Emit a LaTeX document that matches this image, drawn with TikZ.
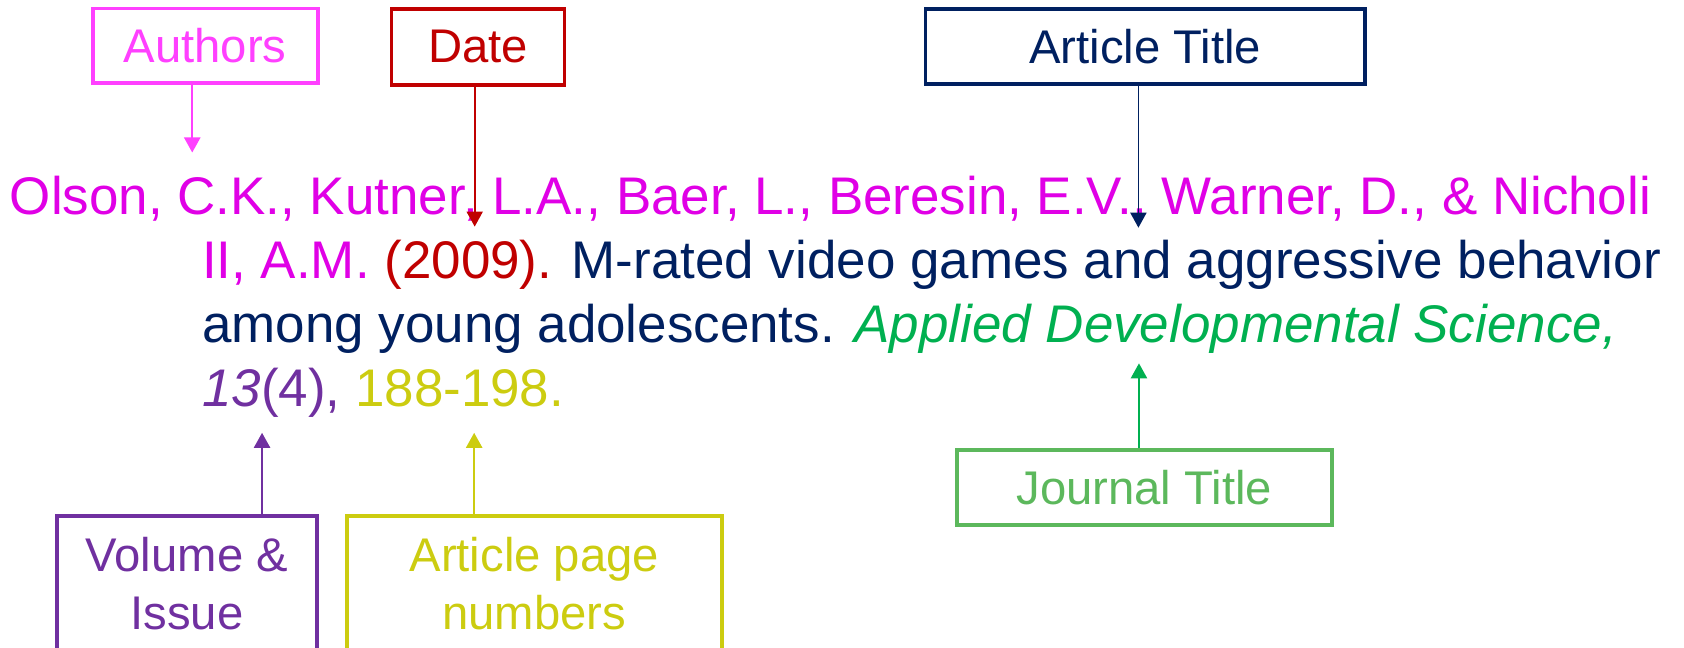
\documentclass[tikz,border=0pt]{standalone}
\usepackage{fontspec}
\setmainfont{Liberation Sans}
\usetikzlibrary{arrows.meta}
\definecolor{authc}{HTML}{FF40FF}
\definecolor{authtxt}{HTML}{E000E6}
\definecolor{datec}{HTML}{C00000}
\definecolor{navyc}{HTML}{002060}
\definecolor{jbox}{HTML}{5CB85C}
\definecolor{jtxt}{HTML}{00B050}
\definecolor{volc}{HTML}{7030A0}
\definecolor{pagec}{HTML}{CCCC10}
\begin{document}
\begin{tikzpicture}[x=1pt,y=-1pt,
  lbl/.style={draw,line width=3.5pt,inner sep=0pt,font=\fontsize{44}{54}\selectfont,align=center},
  cite/.style={anchor=base west,inner sep=0pt,font=\fontsize{49.3}{59.5}\selectfont},
  pointer/.style={line width=2pt,-{Triangle[width=15pt,length=14pt]}}]
\useasboundingbox (0,0) rectangle (1568,603);
% label boxes
\node[lbl,draw=authc,text=authc,minimum width=209.5pt,minimum height=69.5pt] (authors) at (191,42.7) {Authors};
\node[lbl,draw=datec,text=datec,minimum width=161pt,minimum height=71pt] (date) at (445,43.7) {Date};
\node[lbl,draw=navyc,text=navyc,minimum width=409.5pt,minimum height=70pt] (atitle) at (1066.4,43.1) {Article Title};
\node[lbl,draw=jbox,text=jbox,minimum width=349.5pt,minimum height=69.5pt] (jtitle) at (1065.5,453.9) {Journal Title};
\node[lbl,draw=volc,text=volc,minimum width=242.5pt,minimum height=125.5pt] (vol) at (174,543.2) {Volume \&\\Issue};
\node[lbl,draw=pagec,text=pagec,minimum width=349.5pt,minimum height=125.5pt] (pages) at (497.5,543.2) {Article page\\numbers};
% citation text
\node[cite,text=authtxt] (l1) at (9,200) {Olson, C.K., Kutner, L.A., Baer, L., Beresin, E.V., Warner, D., \& Nicholi};
\node[cite] (l2) at (188,259.5) {\textcolor{authtxt}{II, A.M.} \textcolor{datec}{(2009).} \textcolor{navyc}{M-rated video games and aggressive behavior}};
\node[cite] (l3) at (188,319) {\textcolor{navyc}{among young adolescents.} \textcolor{jtxt}{\itshape Applied Developmental Science,}};
\node[cite] (l4) at (188,378.5) {\textcolor{volc}{{\itshape 13}(4),} \textcolor{pagec}{188-198.}};
% arrow tips
\coordinate (tauth) at (179,142);
\coordinate (tdate) at (442,211);
\coordinate (tart) at (1060,212);
\coordinate (tjour) at (1060.5,338.3);
\coordinate (tvol) at (244,403);
\coordinate (tpage) at (441.5,403);
% connectors
\draw[pointer,authc] (authors.south -| tauth) -- (tauth);
\draw[pointer,datec,line width=1.5pt] (date.south -| tdate) -- (tdate);
\draw[pointer,navyc,line width=1.5pt] (atitle.south -| tart) -- (tart);
\draw[pointer,jtxt] (jtitle.north -| tjour) -- (tjour);
\draw[pointer,volc] (vol.north -| tvol) -- (tvol);
\draw[pointer,pagec] (pages.north -| tpage) -- (tpage);
\end{tikzpicture}
\end{document}
